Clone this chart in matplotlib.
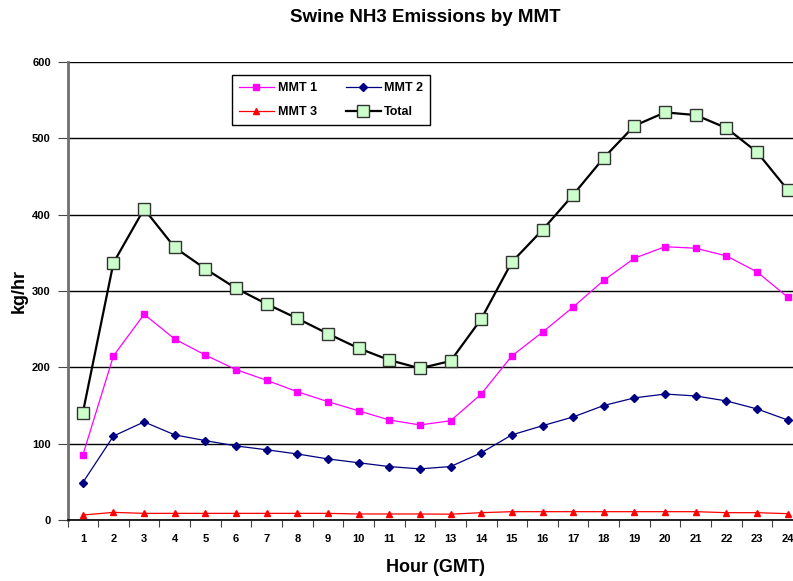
import matplotlib
matplotlib.use("Agg")
import matplotlib.pyplot as plt
import numpy as np

hours = list(range(1, 25))
mmt1 = [85, 215, 269.5, 237, 216, 197, 183, 168, 155, 143, 131, 124.5, 130,
        165, 215, 246, 279, 314, 343, 358, 356, 346, 325, 292]
mmt2 = [49, 110, 128.5, 111.5, 104, 97, 92, 86.5, 80, 75, 70, 67, 70,
        88, 111.5, 123.5, 135, 150, 160, 165, 162.5, 156, 145.5, 131]
mmt3 = [6.5, 10, 8.7, 8.7, 8.7, 8.7, 8.7, 8.7, 8.7, 7.9, 7.9, 7.9, 7.6,
        9.6, 10.9, 10.9, 10.9, 10.9, 10.9, 10.9, 10.9, 9.6, 9.6, 8.3]
total = [140.5, 337, 407.5, 357, 329, 303.5, 283, 264, 244, 225, 209.5, 198.7, 208.3,
         263.3, 338, 380, 426, 474.5, 516.5, 534, 530.5, 513.5, 482, 432.5]
yticks = [0, 100, 200, 300, 400, 500, 600]

plt.rcParams['font.family'] = ['Liberation Sans', 'DejaVu Sans']
plt.rcParams['font.weight'] = 'bold'

fig = plt.figure(figsize=(7.93, 5.81), dpi=100)
W, H = 793, 581
left, right, top, bottom = 67.5, 803, 62, 520
ax = fig.add_axes([left / W, 1 - bottom / H, (right - left) / W, (bottom - top) / H])

ax.plot(hours, mmt1, color='#FF00FF', lw=0.9, marker='s', ms=5, mfc='#FF00FF', mec='#FF00FF', label='MMT 1', zorder=4)
ax.plot(hours, mmt2, color='#000080', lw=0.9, marker='D', ms=3.8, mfc='#000080', mec='#000080', label='MMT 2', zorder=4)
ax.plot(hours, mmt3, color='#FF0000', lw=0.9, marker='^', ms=5, mfc='#FF0000', mec='#FF0000', label='MMT 3', zorder=4)
ax.plot(hours, total, color='black', lw=1.6, marker='s', ms=8, mfc='#CCFFCC', mec='#333333', mew=1.0, label='Total', zorder=5)

ax.set_xlim(0.5, 24.5)
ax.set_ylim(0, 600)
ax.set_yticks(yticks)
ax.set_yticklabels([str(v) for v in yticks], fontsize=8, fontweight='bold')
ax.yaxis.grid(True, color='black', lw=1.0)
ax.set_axisbelow(True)

ax.set_xticks(np.arange(0.5, 25, 1))
ax.set_xticklabels([])
ax.set_xticks(hours, minor=True)
ax.set_xticklabels([str(h) for h in hours], minor=True, fontsize=8, fontweight='bold')
ax.tick_params(axis='x', which='major', length=5, direction='out', color='#444444')
ax.tick_params(axis='x', which='minor', length=0, pad=10)
ax.tick_params(axis='y', length=7, direction='out', color='#444444', pad=5)

for s in ['top', 'right']:
    ax.spines[s].set_visible(False)
ax.spines['left'].set_color('#707070')
ax.spines['left'].set_linewidth(2)
ax.spines['bottom'].set_color('black')
ax.spines['bottom'].set_linewidth(1.2)

ax.set_xlabel('Hour (GMT)', fontsize=13, fontweight='bold', labelpad=11)
ax.set_ylabel('kg/hr', fontsize=13, fontweight='bold', labelpad=3)
fig.text(425 / W, 1 - 18 / H, 'Swine NH3 Emissions by MMT', ha='center', va='center',
         fontsize=13.5, fontweight='bold')

h, l = ax.get_legend_handles_labels()
order = [0, 2, 1, 3]
leg = ax.legend([h[i] for i in order], [l[i] for i in order], ncol=2,
                loc='upper left', bbox_to_anchor=((232 - left) / (right - left), 1 - (75 - top) / (bottom - top)),
                borderaxespad=0,
                fontsize=9, frameon=True, fancybox=False, framealpha=1,
                edgecolor='black', handlelength=2.8, columnspacing=2.3,
                borderpad=0.55, labelspacing=1.0, handletextpad=0.3)
leg.get_frame().set_linewidth(1.0)
for t in leg.get_texts():
    t.set_fontweight('bold')

fig.savefig('out.png', dpi=100)
